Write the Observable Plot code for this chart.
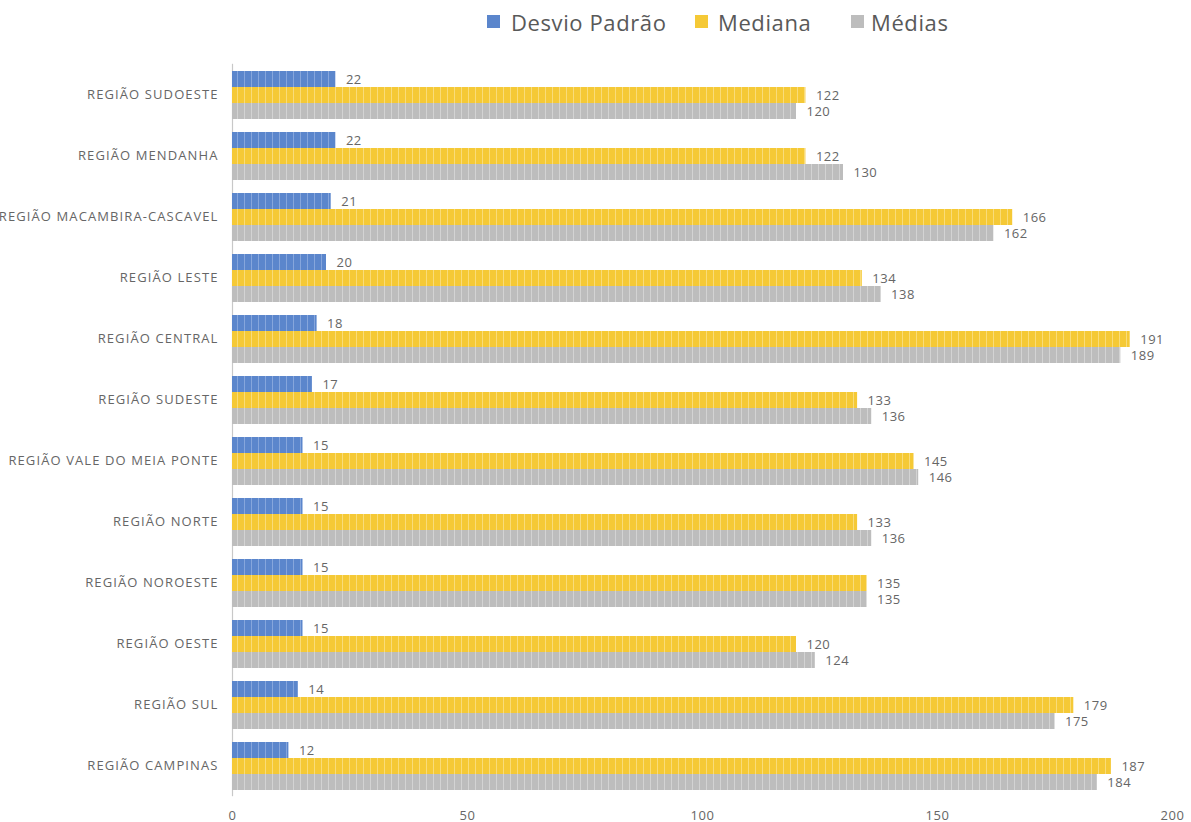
<!DOCTYPE html>
<html><head><meta charset="utf-8">
<script src="https://cdn.jsdelivr.net/npm/d3@7"></script>
<script src="https://cdn.jsdelivr.net/npm/@observablehq/plot@0.6"></script>
<style>
body{margin:0;background:#fff;font-family:"Open Sans",sans-serif;width:1191px;height:822px;overflow:hidden;}
#legend{height:45px;position:relative;}
.sw{position:absolute;top:15px;width:13px;height:13px;}
.lt{position:absolute;top:7px;font-size:22px;line-height:30px;letter-spacing:0.6px;color:#595959;white-space:nowrap;}
#chart svg{display:block;overflow:visible;}
</style></head>
<body>
<div id="legend"></div>
<div id="chart"></div>
<script>
const regions = ["REGIÃO SUDOESTE","REGIÃO MENDANHA","REGIÃO MACAMBIRA-CASCAVEL","REGIÃO LESTE","REGIÃO CENTRAL","REGIÃO SUDESTE","REGIÃO VALE DO MEIA PONTE","REGIÃO NORTE","REGIÃO NOROESTE","REGIÃO OESTE","REGIÃO SUL","REGIÃO CAMPINAS"];
const series = ["Desvio Padrão","Mediana","Médias"];
const desvio  = [22,22,21,20,18,17,15,15,15,15,14,12];
const mediana = [122,122,166,134,191,133,145,133,135,120,179,187];
const medias  = [120,130,162,138,189,136,146,136,135,124,175,184];
const xTicks = [0,50,100,150,200];
const colors = ["#5b86cc","#f5c936","#bdbdbd"];
const stripes = ["#86a6dc","#f9dc7a","#d3d3d3"];

const values = [desvio, mediana, medias];
const rows = [];
regions.forEach((r,i) => series.forEach((s,j) => rows.push({region:r, series:s, value:values[j][i], k:j})));

// legend
const lg = document.getElementById("legend");
const lpos = [[487,511],[695,718],[851,871]];
series.forEach((s,j)=>{
  const sw=document.createElement("div"); sw.className="sw"; sw.style.left=lpos[j][0]+"px"; sw.style.background=colors[j]; lg.appendChild(sw);
  const t=document.createElement("div"); t.className="lt"; t.style.left=lpos[j][1]+"px"; t.textContent=s; lg.appendChild(t);
});

const svg = Plot.plot({
  width: 1191,
  height: 777,
  marginLeft: 232,
  marginRight: 19,
  marginTop: 24,
  marginBottom: 31,
  style: {color:"#666", fontFamily:"'Open Sans', sans-serif", fontSize:"13px", background:"#fff"},
  x: {domain:[0,200], ticks:xTicks, tickSize:0, tickPadding:20, label:null},
  y: {domain:series, padding:0, axis:null},
  fy: {domain:regions, paddingInner:0.2, paddingOuter:0, label:null, tickSize:0, tickPadding:14},
  marks: [
    Plot.ruleX([0], {stroke:"#c8c8c8", strokeWidth:1.2, insetTop:-6.2, insetBottom:-6.2}),
    ...series.map((s,j)=>Plot.barX(rows.filter(d=>d.k===j), {x:"value", y:"series", fy:"region", fill:`url(#pat${j})`})),
    Plot.text(rows, {x:"value", y:"series", fy:"region", text:d=>String(d.value), textAnchor:"start", dx:10, fill:"#666", fontSize:13})
  ]
});
const defs = d3.select(svg).insert("defs", ":first-child");
colors.forEach((c,j)=>{
  const p = defs.append("pattern").attr("id",`pat${j}`).attr("patternUnits","userSpaceOnUse").attr("width",7).attr("height",10);
  p.append("rect").attr("width",7).attr("height",10).attr("fill",c);
  p.append("rect").attr("x",6).attr("width",1).attr("height",10).attr("fill",stripes[j]);
});
d3.select(svg).selectAll("g[aria-label='fy-axis tick label']").attr("letter-spacing","1.1");
d3.select(svg).selectAll("g[aria-label='x-axis tick label'], g[aria-label='text']").attr("letter-spacing","0.5");
document.getElementById("chart").appendChild(svg);
</script>
</body></html>
